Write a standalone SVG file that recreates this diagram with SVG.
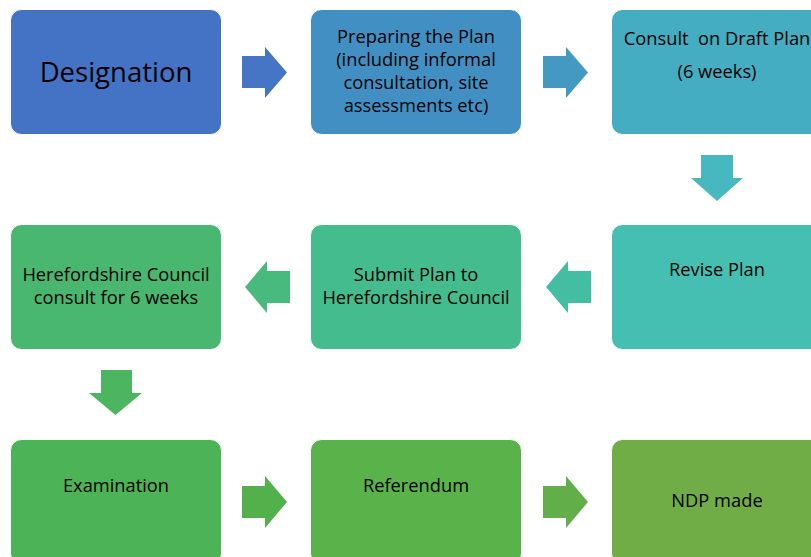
<svg xmlns="http://www.w3.org/2000/svg" width="811" height="557" viewBox="0 0 811 557">
<style>
.box{stroke:#ffffff;stroke-width:1}
.t{font-family:"Open Sans","Liberation Sans",sans-serif;font-size:18.3px;fill:#000000;text-anchor:middle;white-space:pre}
.big{font-size:27.5px}
</style>
<rect width="811" height="557" fill="#ffffff"/>
<g id="connectors">
<polygon points="242,56 265,56 265,47 287,72.5 265,98 265,88 242,88" fill="#4675C6"/>
<polygon points="543,56 566,56 566,47 588,72.5 566,98 566,88 543,88" fill="#4399C2"/>
<polygon points="701,155 733,155 733,178 743,178 717,201 691,178 701,178" fill="#47B8C0"/>
<polygon points="591,271 568,271 568,261 546,287 568,313 568,303 591,303" fill="#44BEA3"/>
<polygon points="290,271 267,271 267,261 245,287 267,313 267,303 290,303" fill="#48BA7D"/>
<polygon points="101,370 132,370 132,393 142,393 115.5,415 89,393 101,393" fill="#4CB55F"/>
<polygon points="242,486 265,486 265,476 287,502 265,528 265,518 242,518" fill="#53B14C"/>
<polygon points="543,486 566,486 566,476 588,502 566,528 566,518 543,518" fill="#62AE48"/>
</g>
<g id="designation">
<rect class="box" x="10.5" y="9.5" width="211" height="125" rx="11" fill="#4472C4"/>
<text class="t big" x="116" y="82">Designation</text>
</g>
<g id="preparing">
<rect class="box" x="310.5" y="9.5" width="211" height="125" rx="11" fill="#4290C3"/>
<text class="t" x="416" y="43">Preparing the Plan</text>
<text class="t" x="416" y="66">(including informal</text>
<text class="t" x="416" y="89">consultation, site</text>
<text class="t" x="416" y="112">assessments etc)</text>
</g>
<g id="consult-draft">
<rect class="box" x="611.5" y="9.5" width="211" height="125" rx="11" fill="#44ADC1"/>
<text class="t" x="717" y="45" xml:space="preserve">Consult  on Draft Plan</text>
<text class="t" x="717" y="78">(6 weeks)</text>
</g>
<g id="revise">
<rect class="box" x="611.5" y="224.5" width="211" height="125" rx="11" fill="#45BFB2"/>
<text class="t" x="717" y="276">Revise Plan</text>
</g>
<g id="submit">
<rect class="box" x="310.5" y="224.5" width="211" height="125" rx="11" fill="#45BC8E"/>
<text class="t" x="416" y="281">Submit Plan to</text>
<text class="t" x="416" y="304">Herefordshire Council</text>
</g>
<g id="hc-consult">
<rect class="box" x="10.5" y="224.5" width="211" height="125" rx="11" fill="#4AB770"/>
<text class="t" x="116" y="281">Herefordshire Council</text>
<text class="t" x="116" y="304">consult for 6 weeks</text>
</g>
<g id="examination">
<rect class="box" x="10.5" y="439.5" width="211" height="125" rx="11" fill="#4CB456"/>
<text class="t" x="116" y="492">Examination</text>
</g>
<g id="referendum">
<rect class="box" x="310.5" y="439.5" width="211" height="125" rx="11" fill="#5AB24B"/>
<text class="t" x="416" y="492">Referendum</text>
</g>
<g id="ndp-made">
<rect class="box" x="611.5" y="439.5" width="211" height="125" rx="11" fill="#70AD47"/>
<text class="t" x="717" y="507">NDP made</text>
</g>
</svg>
